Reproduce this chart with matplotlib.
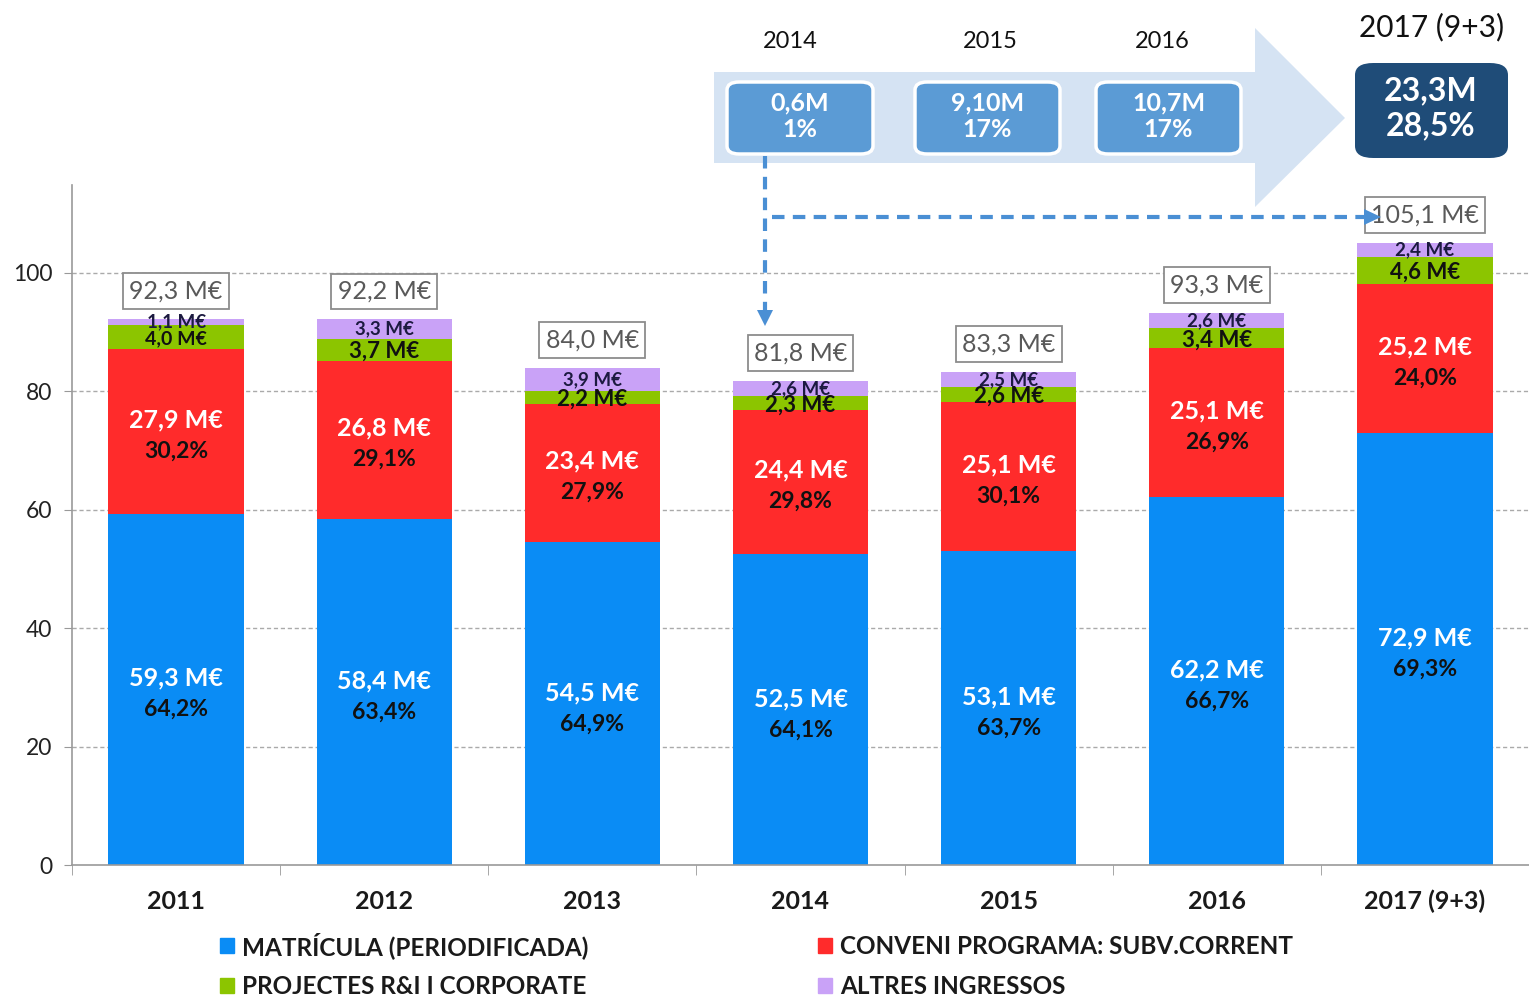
import matplotlib
matplotlib.use('Agg')
import matplotlib.pyplot as plt
from matplotlib.patches import FancyBboxPatch, Polygon, Rectangle

plt.rcParams['font.family'] = ['Lato', 'DejaVu Sans']

# ---------------- data ----------------
years = ['2011', '2012', '2013', '2014', '2015', '2016', '2017 (9+3)']
matricula = [59.3, 58.4, 54.5, 52.5, 53.1, 62.2, 72.9]
conveni = [27.9, 26.8, 23.4, 24.4, 25.1, 25.1, 25.2]
projectes = [4.0, 3.7, 2.2, 2.3, 2.6, 3.4, 4.6]
altres = [1.1, 3.3, 3.9, 2.6, 2.5, 2.6, 2.4]
totals = [92.3, 92.2, 84.0, 81.8, 83.3, 93.3, 105.1]
pct_matricula = ['64,2%', '63,4%', '64,9%', '64,1%', '63,7%', '66,7%', '69,3%']
pct_conveni = ['30,2%', '29,1%', '27,9%', '29,8%', '30,1%', '26,9%', '24,0%']
series_names = ['MATRÍCULA (PERIODIFICADA)', 'CONVENI PROGRAMA: SUBV.CORRENT',
                'PROJECTES R&I I CORPORATE', 'ALTRES INGRESSOS']
colors = ['#0a8cf5', '#ff2b2b', '#8cc500', '#c9a2f7']
yticks = [0, 20, 40, 60, 80, 100]

timeline_years = ['2014', '2015', '2016']
timeline_vals = ['0,6M', '9,10M', '10,7M']
timeline_pct = ['1%', '17%', '17%']
final_year = '2017 (9+3)'
final_val = '23,3M'
final_pct = '28,5%'


def fmt(v):
    return f"{v:.1f}".replace('.', ',') + ' M€'


W, H = 1529, 1000
fig = plt.figure(figsize=(W / 100, H / 100), dpi=100)


def fx(x):
    return x / W


def fy(y):
    return 1 - y / H


ax = fig.add_axes([fx(72), fy(865), (W - 72) / W, (865 - 185) / H])
x = list(range(len(years)))
bw = 0.65
b1 = matricula
b2 = [a + b for a, b in zip(matricula, conveni)]
b3 = [a + b for a, b in zip(b2, projectes)]
ax.bar(x, matricula, bw, color=colors[0], label=series_names[0])
ax.bar(x, conveni, bw, bottom=b1, color=colors[1], label=series_names[1])
ax.bar(x, projectes, bw, bottom=b2, color=colors[2], label=series_names[2])
ax.bar(x, altres, bw, bottom=b3, color=colors[3], label=series_names[3])

ax.set_xlim(-0.5, -0.5 + (W - 72) / 210)
ax.set_ylim(0, (865 - 185) / 5.92)
ax.set_yticks(yticks)
ax.set_yticklabels([str(t) for t in yticks], fontsize=16.5, color='#222222')
ax.set_xticks(x)
ax.set_xticklabels(years, fontsize=18, fontweight='bold', color='#1a1a1a')
ax.set_xticks([i - 0.5 for i in range(len(years) + 1)], minor=True)
ax.tick_params(axis='x', which='major', length=0, pad=18)
ax.tick_params(axis='x', which='minor', length=7, color='#999999', direction='out')
ax.tick_params(axis='y', length=6, color='#999999', pad=8)
for s in ['top', 'right']:
    ax.spines[s].set_visible(False)
for s in ['left', 'bottom']:
    ax.spines[s].set_color('#999999')
    ax.spines[s].set_linewidth(1.2)
ax.yaxis.grid(True, linestyle=(0, (3, 2)), color='#aaaaaa', linewidth=1)
ax.set_axisbelow(True)
ax.get_ygridlines()[0].set_visible(False)

for i in x:
    # blue
    m = matricula[i] / 2
    ax.annotate(fmt(matricula[i]), (i, m), xytext=(0, 8), textcoords='offset points',
                ha='center', va='center', color='white', fontsize=18, fontweight='bold')
    ax.annotate(pct_matricula[i], (i, m), xytext=(0, -14.5), textcoords='offset points',
                ha='center', va='center', color='#111111', fontsize=16.5, fontweight='bold')
    # red
    r = b1[i] + conveni[i] / 2
    ax.annotate(fmt(conveni[i]), (i, r), xytext=(0, 8.5), textcoords='offset points',
                ha='center', va='center', color='white', fontsize=18, fontweight='bold')
    ax.annotate(pct_conveni[i], (i, r), xytext=(0, -14), textcoords='offset points',
                ha='center', va='center', color='#111111', fontsize=16.5, fontweight='bold')
    # green
    g = b2[i] + projectes[i] / 2
    ax.text(i, g - 0.3, fmt(projectes[i]), ha='center', va='center', color='#111111',
            fontsize=14 if altres[i] < 2 else 16, fontweight='bold')
    # purple
    p = b3[i] + altres[i] / 2
    ax.text(i, p, fmt(altres[i]), ha='center', va='center', color='#1c1a40',
            fontsize=13.5, fontweight='bold')
    # total
    ax.annotate(fmt(totals[i]), (i, totals[i]), xytext=(0, 20), textcoords='offset points',
                ha='center', va='center', color='#595959', fontsize=18,
                bbox=dict(boxstyle='square,pad=0.25', fc='white', ec='#8c8c8c', lw=1.3))

# ---------------- legend ----------------
leg_pos = [(220, 946), (818, 946), (220, 986), (818, 986)]
for (lx, ly), name, c in zip(leg_pos, series_names, colors):
    fig.patches.append(Rectangle((fx(lx), fy(ly + 7)), 14 / W, 15 / H, color=c,
                                 transform=fig.transFigure))
    fig.text(fx(lx + 22), fy(ly), name, fontsize=17.5, fontweight='bold',
             color='#1a1a1a', ha='left', va='center')

# ---------------- top timeline graphic ----------------
arrow_pts = [(714, 72), (1255, 72), (1255, 28), (1345, 118), (1255, 207),
             (1255, 163), (714, 163)]
fig.patches.append(Polygon([(fx(a), fy(b)) for a, b in arrow_pts], closed=True,
                           fc='#d5e3f3', ec='none', transform=fig.transFigure))
box_x = [(727, 873), (915, 1060), (1096, 1241)]
year_x = [790, 990, 1162]
for (x0, x1), yx, yr, v, p in zip(box_x, year_x, timeline_years, timeline_vals, timeline_pct):
    fig.patches.append(FancyBboxPatch((fx(x0), fy(154)), (x1 - x0) / W, 72 / H,
                                      boxstyle='round,pad=0,rounding_size=0.008',
                                      fc='#5b9bd5', ec='white', lw=2.5,
                                      transform=fig.transFigure))
    fig.text(fx((x0 + x1) / 2), fy(116), v + '\n' + p, ha='center', va='center',
             color='white', fontsize=18, fontweight='bold', linespacing=1.2)
    fig.text(fx(yx), fy(42), yr, ha='center', va='center', fontsize=17, color='#111111')

fig.patches.append(FancyBboxPatch((fx(1355), fy(158)), 153 / W, 95 / H,
                                  boxstyle='round,pad=0,rounding_size=0.012',
                                  fc='#1f4c78', ec='none', transform=fig.transFigure))
fig.text(fx(1431), fy(108), final_val + '\n' + final_pct, ha='center', va='center',
         color='white', fontsize=23, fontweight='bold', linespacing=1.25)
fig.text(fx(1432), fy(27), final_year, ha='center', va='center', fontsize=21.5, color='#111111')

# dashed arrows
fig.lines.append(plt.Line2D([fx(765), fx(765)], [fy(156), fy(312)], transform=fig.transFigure,
                            color='#4a8fd4', lw=3, linestyle=(0, (3, 2))))
fig.patches.append(Polygon([(fx(757), fy(310)), (fx(773), fy(310)), (fx(765), fy(326))],
                           closed=True, fc='#4a8fd4', ec='none', transform=fig.transFigure))
fig.lines.append(plt.Line2D([fx(772), fx(1366)], [fy(217), fy(217)], transform=fig.transFigure,
                            color='#4a8fd4', lw=3, linestyle=(0, (3, 2))))
fig.patches.append(Polygon([(fx(1364), fy(209)), (fx(1364), fy(225)), (fx(1381), fy(217))],
                           closed=True, fc='#4a8fd4', ec='none', transform=fig.transFigure))

fig.savefig('out.png', dpi=100)
